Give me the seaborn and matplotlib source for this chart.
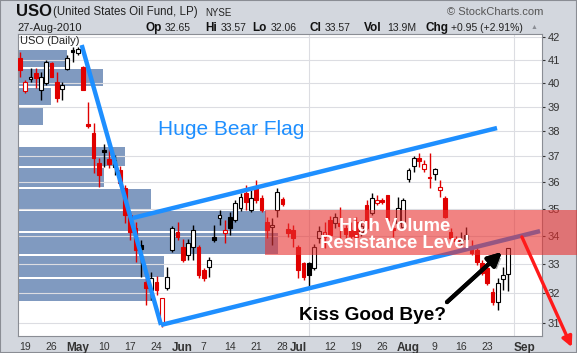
import numpy as np
import pandas as pd
import matplotlib
matplotlib.use("Agg")
import matplotlib.pyplot as plt
import matplotlib.patheffects as pe
from matplotlib.patches import Rectangle
from matplotlib.ticker import NullLocator
import seaborn as sns

sns.set_style("white")
plt.rcParams["font.family"] = ["Liberation Sans", "DejaVu Sans"]

### DATA (USO daily, 16-Apr-2010 .. 27-Aug-2010) ###
opens = [41.08, 39.66, 40.17, 40.42, 39.70, 40.00, 40.86, 40.04, 39.74, 40.60,
         41.42, 41.29, 40.68, 38.29, 37.93, 36.74, 37.25, 36.90, 36.59, 36.47,
         35.78, 34.77, 34.29, 33.68, 32.38, 32.11, 32.38, 31.00, 32.18, 33.50,
         34.15, 33.61, 33.32, 33.61, 33.61, 32.80, 32.90, 33.97, 34.66, 34.11,
         34.69, 34.58, 35.03, 35.59, 34.95, 35.78, 35.40, 34.51, 34.33, 34.95,
         35.36, 34.26, 34.22, 33.61, 33.04, 33.04, 32.87, 33.93, 33.97, 34.60,
         34.47, 34.47, 34.29, 34.22, 34.51, 34.15, 35.14, 34.84, 35.21, 35.33,
         35.51, 34.29, 34.47, 34.33, 36.12, 36.62, 36.94, 36.51, 36.20, 36.32,
         35.70, 35.40, 34.15, 33.90, 33.75, 34.04, 33.61, 33.50, 33.04, 32.87,
         32.04, 31.70, 32.48, 32.65]
highs = [41.34, 40.12, 40.64, 40.64, 40.47, 40.99, 40.90, 40.47, 40.04, 41.20,
         41.56, 41.56, 40.73, 39.20, 38.33, 36.94, 37.49, 37.29, 37.06, 36.62,
         35.89, 34.88, 34.51, 33.86, 32.62, 32.73, 32.59, 31.84, 32.90, 34.37,
         34.51, 33.90, 33.90, 34.40, 33.68, 32.86, 33.25, 34.40, 34.95, 34.58,
         34.88, 35.33, 35.59, 35.89, 35.70, 36.08, 35.51, 34.69, 34.66, 35.78,
         35.44, 34.47, 34.40, 33.68, 33.08, 33.08, 33.71, 34.36, 34.51, 34.75,
         34.84, 35.06, 34.40, 34.51, 34.69, 34.58, 35.33, 35.59, 35.51, 35.40,
         35.51, 34.58, 35.44, 35.40, 36.55, 37.02, 37.13, 36.86, 37.13, 36.55,
         36.08, 35.48, 34.29, 34.00, 34.15, 34.33, 33.86, 33.61, 33.15, 32.94,
         32.18, 32.52, 32.90, 33.57]
lows = [40.25, 39.58, 40.04, 39.79, 39.28, 39.91, 40.25, 39.20, 39.28, 40.55,
        40.90, 41.20, 39.68, 38.13, 36.35, 35.82, 36.59, 36.55, 36.28, 35.86,
        34.47, 33.86, 33.08, 32.55, 31.60, 31.77, 31.94, 30.87, 32.11, 33.43,
        33.86, 33.08, 33.15, 33.15, 32.52, 32.41, 32.55, 33.79, 34.40, 33.75,
        34.04, 34.51, 34.92, 34.95, 34.88, 35.21, 34.88, 33.93, 33.68, 34.69,
        35.10, 33.97, 33.61, 32.52, 32.45, 32.21, 32.80, 33.75, 33.57, 33.90,
        34.29, 33.86, 33.93, 33.86, 33.86, 34.00, 34.22, 34.77, 35.14, 35.18,
        34.51, 33.97, 34.40, 34.29, 36.00, 36.39, 36.59, 36.39, 35.78, 36.08,
        35.44, 34.66, 33.86, 33.68, 33.64, 33.75, 33.32, 32.97, 32.62, 32.28,
        31.60, 31.43, 32.11, 32.06]
closes = [40.55, 40.04, 40.25, 40.21, 40.25, 40.90, 40.25, 39.37, 39.91, 41.08,
          41.34, 41.46, 39.70, 38.21, 36.94, 36.28, 37.17, 36.70, 36.86, 35.97,
          34.77, 34.15, 33.50, 33.54, 32.18, 32.52, 32.11, 31.84, 32.55, 34.29,
          33.97, 33.15, 33.75, 34.22, 32.62, 32.52, 33.15, 33.86, 34.77, 34.22,
          34.29, 35.21, 35.44, 35.25, 35.40, 35.33, 34.95, 34.22, 34.40, 35.63,
          35.18, 34.11, 33.93, 32.80, 32.55, 32.62, 33.61, 34.18, 34.15, 34.05,
          34.69, 34.36, 34.07, 34.00, 33.97, 34.36, 34.29, 35.40, 35.33, 35.25,
          34.58, 34.22, 35.03, 35.33, 36.47, 36.94, 36.82, 36.70, 36.16, 36.51,
          35.82, 34.69, 33.93, 33.82, 33.86, 33.90, 33.39, 33.08, 32.69, 32.35,
          31.70, 32.35, 32.62, 33.57]
prior_close = 41.30
last_volume = "13.9M"

# volume by price, 12 zones between lowest and highest close (bottom -> top)
vbp_volume = [270, 292, 520, 496, 266, 172, 214, 0, 50, 66, 170, 98]

# trading calendar and axis labels
calendar = pd.bdate_range("2010-04-16", "2010-09-03").drop(
    pd.to_datetime(["2010-05-31", "2010-07-05"]))
tick_dates = ["2010-04-19", "2010-04-26", "2010-05-03", "2010-05-10", "2010-05-17",
              "2010-05-24", "2010-06-01", "2010-06-07", "2010-06-14", "2010-06-21",
              "2010-06-28", "2010-07-01", "2010-07-12", "2010-07-19", "2010-07-26",
              "2010-08-02", "2010-08-09", "2010-08-16", "2010-08-23", "2010-09-01"]
tick_labels = ["19", "26", "May", "10", "17", "24", "Jun", "7", "14", "21",
               "28", "Jul", "12", "19", "26", "Aug", "9", "16", "23", "Sep"]
month_labels = ["May", "Jun", "Jul", "Aug", "Sep"]
price_ticks = list(range(31, 43))

# hand drawn annotations as (trading day, price)
pole_x, pole_y = [11.75, 26.86], [41.64, 30.94]
flag_low_x, flag_low_y = [26.86, 99.05], [30.94, 34.18]
flag_high_x, flag_high_y = [21.5, 90.86], [34.66, 38.13]
band_start, band_end = 46.6, 106.5
drop_arrow = [(95.6, 33.97), (105.1, 30.22)]
kiss_arrow = [(81.33, 31.70), (91.8, 33.43)]

### FIGURE ###
W, H = 577, 353
fig = plt.figure(figsize=(W / 100, H / 100), dpi=100)
fig.patch.set_facecolor("#d3d7de")
L, R, T, B = 18, 542, 34, 336
ax = fig.add_axes([L / W, 1 - B / H, (R - L) / W, (B - T) / H])
ax.set_yscale("log")
vax = ax.twiny()
ax.set_zorder(2)
vax.set_zorder(1)
ax.patch.set_visible(False)
vax.patch.set_visible(True)
vax.patch.set_facecolor("white")

o, h, l, c = map(np.array, (opens, highs, lows, closes))
x = np.arange(len(c))

# volume by price bars
edges = np.linspace(c.min(), c.max(), 13)
centers = (edges[:-1] + edges[1:]) / 2
vax.barh(centers, vbp_volume, height=np.diff(edges) * 0.9, left=0,
         color="#4a70a6", alpha=0.7, lw=0)
vax.set_xlim(0, 1048)
vax.set_xticks([])
for s in vax.spines.values():
    s.set_visible(False)

# candles
prev = np.r_[prior_close, c[:-1]]
edge = np.where(c < prev, "#e00000", "#000000")
face = np.where(c > o, "white", edge)
ax.vlines(x, l, h, colors=edge, lw=1, zorder=3)
ax.bar(x, np.maximum(np.abs(c - o), 0.03), bottom=np.minimum(o, c), width=0.7,
       color=face, edgecolor=edge, linewidth=0.8, zorder=4)

# axes
ax.set_xlim((L - 20) / 5.25, (R - 20) / 5.25)
ax.set_ylim(30.58, 42.13)
tick_pos = [calendar.get_loc(pd.Timestamp(d)) for d in tick_dates]
week_pos = [i for i in range(1, len(calendar))
            if calendar[i].weekday() < calendar[i - 1].weekday()]
ax.set_xticks(tick_pos, tick_labels)
ax.set_xticks(week_pos, minor=True)
ax.set_yticks(price_ticks, [str(p) for p in price_ticks])
ax.yaxis.set_minor_locator(NullLocator())
ax.yaxis.tick_right()
ax.tick_params(axis="x", which="both", length=0, pad=4, labelsize=7.5, colors="#333333")
ax.tick_params(axis="y", length=2.5, pad=1.5, labelsize=8, colors="#333333")
for t in ax.get_xticklabels():
    if t.get_text() in month_labels:
        t.set_fontweight("bold")
        t.set_fontsize(8.5)
ax.grid(axis="x", which="minor", color="#dcdde2", lw=0.8)
ax.grid(axis="y", which="major", color="#dcdde2", lw=0.8)
for s in ax.spines.values():
    s.set_color("#8a8d94")
    s.set_linewidth(0.8)

# trend lines
blue = "#1e8fff"
for xs, ys in [(pole_x, pole_y), (flag_low_x, flag_low_y), (flag_high_x, flag_high_y)]:
    sns.lineplot(x=xs, y=ys, ax=ax, color=blue, lw=3.2, sort=False, estimator=None,
                 zorder=5, solid_capstyle="butt")

# high volume band
ax.add_patch(Rectangle((band_start, edges[2]), band_end - band_start, edges[4] - edges[2],
                       facecolor="#e8302f", alpha=0.6, lw=0, zorder=6, clip_on=False))

# annotations
ax.text(40.2, 38.09, "Huge Bear Flag", color=blue, fontsize=15, ha="center", va="center", zorder=7)
ax.text(71.4, 34.04, "High Volume\nResistance Level", color="white", fontsize=13.3,
        fontweight="bold", ha="center", va="center", linespacing=1.05, zorder=7)
ax.text(67.2, 31.24, "Kiss Good Bye?", color="black", fontsize=13.7, fontweight="bold",
        ha="center", va="center", zorder=7)
ax.annotate("", xy=drop_arrow[1], xytext=drop_arrow[0], annotation_clip=False,
            arrowprops=dict(arrowstyle="-|>,head_length=0.6,head_width=0.3", color="#ff1a1a",
                            lw=2.4, shrinkA=0, shrinkB=0), zorder=8)
ax.annotate("", xy=kiss_arrow[1], xytext=kiss_arrow[0],
            arrowprops=dict(arrowstyle="-|>,head_length=0.8,head_width=0.4", color="black",
                            lw=3, shrinkA=0, shrinkB=0,
                            path_effects=[pe.withSimplePatchShadow(offset=(2, -2),
                                                                   shadow_rgbFace="0.45", alpha=0.6),
                                          pe.Normal()]), zorder=8)
ax.text(0.004, 0.995, "USO (Daily)", transform=ax.transAxes, fontsize=8, va="top", color="#222222")

# header
def ftext(px, py, s, **kw):
    fig.text(px / W, 1 - py / H, s, va="center", **kw)

ftext(16, 12, "USO", fontsize=12, fontweight="bold", color="#111111")
ftext(53, 12.5, "(United States Oil Fund, LP)", fontsize=8.3, color="#222222")
ftext(205, 12.5, "NYSE", fontsize=7, color="#222222")
fig.text(543 / W, 1 - 12 / H, "© StockCharts.com", fontsize=8, color="#555555", ha="right", va="center")
ftext(17, 28, "27-Aug-2010", fontsize=8, color="#222222")
chg = c[-1] - c[-2]
header = [(145, "Op", True), (165, f"{o[-1]:.2f}", False), (205, "Hi", True), (221, f"{h[-1]:.2f}", False),
          (252, "Lo", True), (271, f"{l[-1]:.2f}", False), (310, "Cl", True), (325, f"{c[-1]:.2f}", False),
          (364, "Vol", True), (387, last_volume, False), (425, "Chg", True),
          (451, f"{chg:+.2f} ({chg / c[-2] * 100:+.2f}%)", False)]
for px, s, bold in header:
    ftext(px, 28, s, fontsize=8.5 if bold else 7.5, fontweight="bold" if bold else "normal",
          color="#111111" if bold else "#222222")
ftext(531, 27.5, "▲", fontsize=5, color="#8a8d94")

fig.add_artist(Rectangle((0, 0), 1, 1, transform=fig.transFigure, fill=False,
                         edgecolor="#8a8d94", lw=1.5))

fig.savefig("out.png", dpi=100)
